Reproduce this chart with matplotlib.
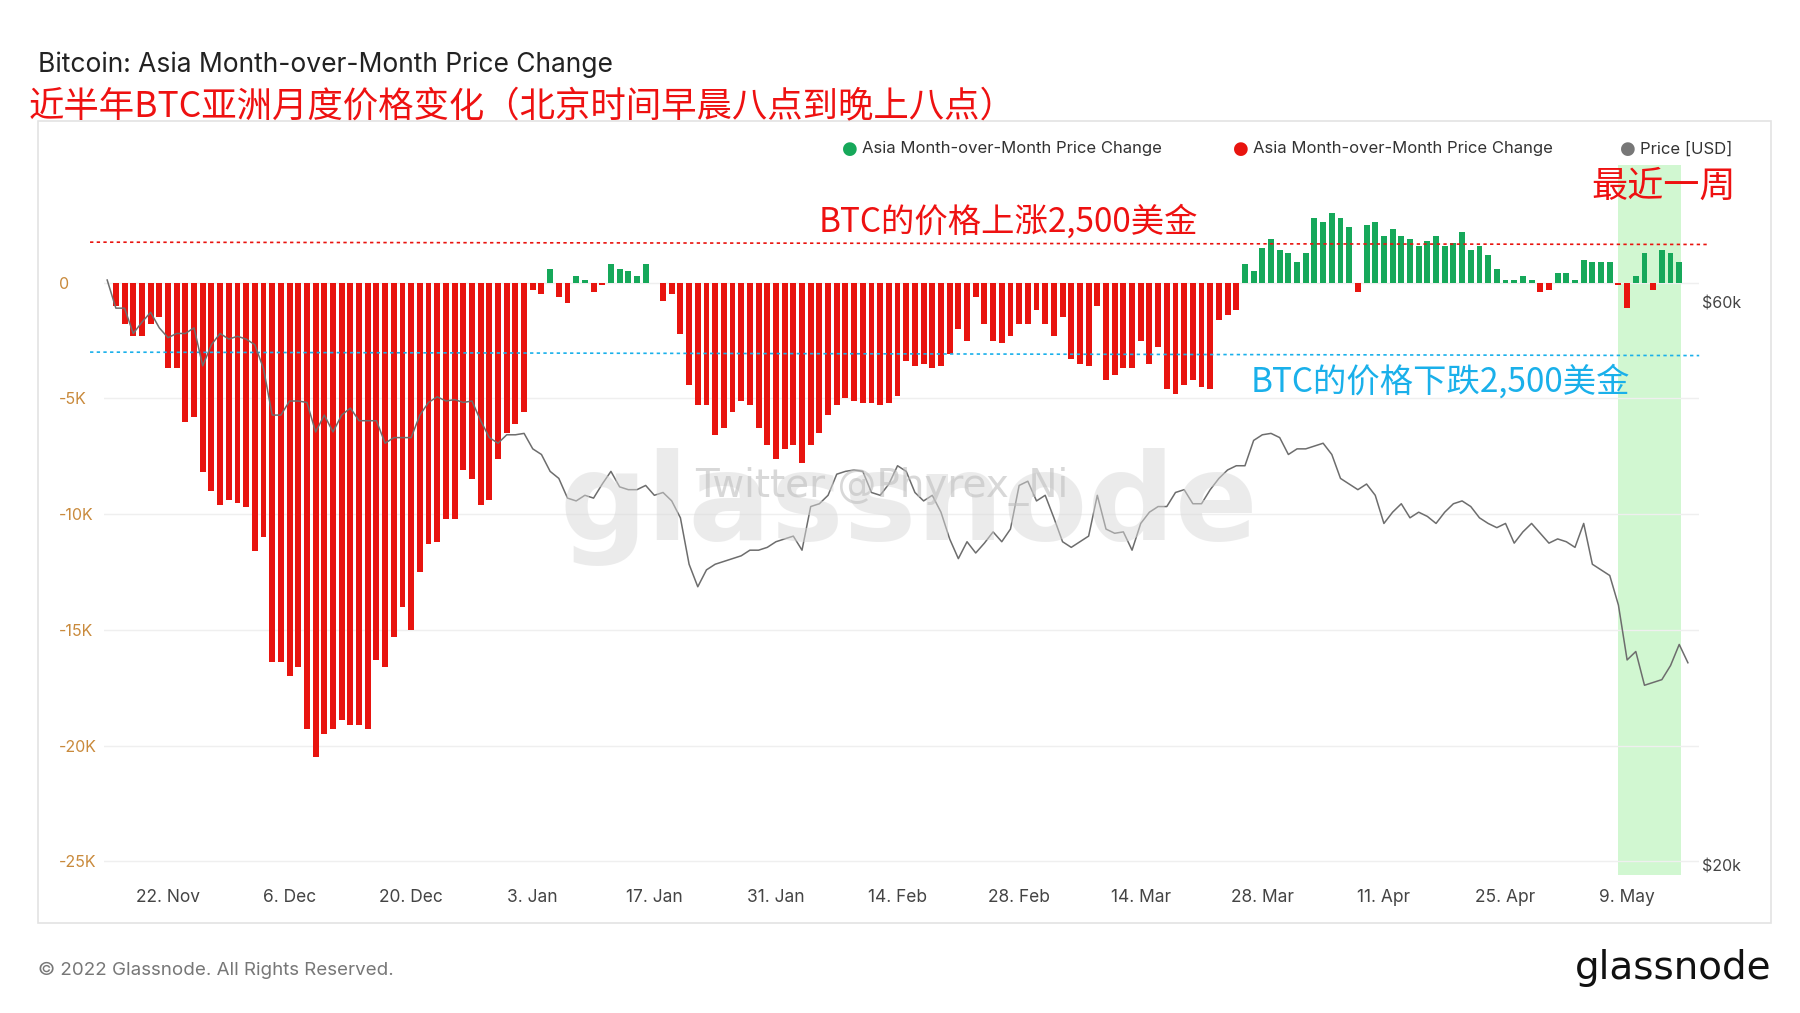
import numpy as np
import pandas as pd
import matplotlib
matplotlib.use("Agg")
import matplotlib.pyplot as plt
import matplotlib.dates as mdates
from matplotlib.patches import Rectangle

plt.rcParams['font.family'] = ['Inter', 'Noto Sans CJK SC', 'DejaVu Sans']

# Asia month-over-month price change (K USD), daily from 16 Nov 2021
change = [-1.0, -1.8, -2.3, -2.3, -1.8, -1.5, -3.7, -3.7, -6.0, -5.8, -8.2, -9.0, -9.6, -9.4,
          -9.5, -9.7, -11.6, -11.0, -16.4, -16.4, -17.0, -16.6, -19.3, -20.5, -19.5, -19.3,
          -18.9, -19.1, -19.1, -19.3, -16.3, -16.6, -15.3, -14.0, -15.0, -12.5, -11.3, -11.2,
          -10.2, -10.2, -8.1, -8.5, -9.6, -9.4, -7.6, -6.5, -6.1, -5.6, -0.3, -0.5, 0.6, -0.6,
          -0.9, 0.3, 0.1, -0.4, -0.1, 0.8, 0.6, 0.5, 0.3, 0.8, 0.0, -0.8, -0.5, -2.2, -4.4,
          -5.3, -5.3, -6.6, -6.3, -5.6, -5.1, -5.3, -6.3, -7.0, -7.6, -7.2, -7.0, -7.8, -7.0,
          -6.5, -5.7, -5.3, -5.0, -5.1, -5.2, -5.2, -5.3, -5.2, -4.9, -3.4, -3.6, -3.5, -3.7,
          -3.6, -3.1, -2.0, -2.5, -0.6, -1.8, -2.5, -2.6, -2.3, -1.8, -1.8, -1.2, -1.8, -2.3,
          -1.5, -3.3, -3.5, -3.6, -1.0, -4.2, -4.0, -3.7, -3.7, -2.5, -3.5, -2.8, -4.6, -4.8,
          -4.4, -4.2, -4.5, -4.6, -1.6, -1.4, -1.2, 0.8, 0.5, 1.5, 1.9, 1.4, 1.3, 0.9, 1.3,
          2.8, 2.6, 3.0, 2.8, 2.4, -0.4, 2.5, 2.6, 2.0, 2.3, 2.0, 1.9, 1.6, 1.8, 2.0, 1.6,
          1.7, 2.2, 1.4, 1.6, 1.2, 0.6, 0.1, 0.1, 0.3, 0.1, -0.4, -0.3, 0.4, 0.4, 0.1, 1.0,
          0.9, 0.9, 0.9, -0.1, -1.1, 0.3, 1.3, -0.3, 1.4, 1.3, 0.9]

# price (K USD), daily from 15 Nov 2021
price = [61.6, 59.6, 59.6, 57.8, 58.6, 59.3, 58.2, 57.5, 57.8, 57.8, 58.2, 55.5, 57.0, 57.8,
         57.4, 57.6, 57.4, 57.0, 55.3, 52.0, 52.0, 53.0, 53.0, 52.9, 50.8, 52.0, 50.8, 52.0,
         52.5, 51.6, 51.6, 51.6, 50.0, 50.4, 50.4, 50.4, 52.0, 52.9, 53.3, 53.0, 53.1, 52.9,
         53.0, 51.6, 50.4, 50.0, 50.6, 50.6, 50.7, 49.6, 49.2, 48.0, 47.5, 46.1, 45.9, 46.3,
         46.1, 47.1, 48.0, 46.9, 46.7, 46.7, 47.0, 46.3, 46.5, 45.9, 44.7, 41.4, 39.8, 41.0,
         41.4, 41.6, 41.8, 42.0, 42.4, 42.4, 42.6, 43.0, 43.2, 43.4, 42.4, 45.5, 45.7, 46.3,
         47.8, 48.0, 48.1, 48.0, 46.5, 46.3, 47.1, 48.4, 48.0, 46.5, 45.9, 46.3, 45.1, 43.2,
         41.8, 43.0, 42.2, 42.9, 43.7, 43.0, 43.9, 47.0, 47.3, 45.9, 46.3, 44.7, 43.0, 42.6,
         43.0, 43.4, 46.3, 43.9, 43.6, 43.7, 42.4, 44.3, 45.1, 45.5, 45.5, 46.5, 46.7, 45.7,
         45.7, 46.7, 47.5, 48.1, 48.4, 48.4, 50.2, 50.6, 50.7, 50.4, 49.2, 49.6, 49.6, 49.8,
         50.0, 49.2, 47.5, 47.1, 46.7, 47.1, 46.3, 44.3, 45.1, 45.7, 44.7, 45.1, 44.8, 44.3,
         45.1, 45.7, 45.9, 45.5, 44.7, 44.3, 44.0, 44.3, 42.9, 43.7, 44.3, 43.6, 42.9, 43.2,
         43.0, 42.6, 44.3, 41.4, 41.0, 40.6, 38.5, 34.6, 35.2, 32.8, 33.0, 33.2, 34.2, 35.7,
         34.4]

bar_dates = pd.date_range("2021-11-16", periods=len(change), freq="D")
price_dates = pd.date_range("2021-11-15", periods=len(price), freq="D")
change = np.array(change)

RED = "#e8140f"
GREEN = "#16a85a"

fig = plt.figure(figsize=(18, 10.13), dpi=100)

# outer light frame
fig.patches.append(Rectangle((0.021, 0.089), 0.963, 0.792, transform=fig.transFigure,
                             fill=False, edgecolor="#e3e3e3", linewidth=1.2))

ax = fig.add_axes([0.058, 0.136, 0.886, 0.7015])
x0 = pd.Timestamp("2021-11-16")
ax.set_xlim(x0 - pd.Timedelta(days=1.32), x0 + pd.Timedelta(days=182.3))
ax.set_ylim(-25.6, 5.1)

ax.axvspan(x0 + pd.Timedelta(days=172.9), x0 + pd.Timedelta(days=180.2),
           color="#ccf7cc", alpha=0.9, zorder=0, lw=0)

for y in [0, -5, -10, -15, -20, -25]:
    ax.axhline(y, color="#efefef", lw=1, zorder=0.5)

colors = [GREEN if v >= 0 else RED for v in change]
ax.bar(bar_dates, change, width=0.68, color=colors, zorder=2)

ax.set_yticks([0, -5, -10, -15, -20, -25])
ax.set_yticklabels(["0", "-5K", "-10K", "-15K", "-20K", "-25K"])
ax.tick_params(axis='y', labelsize=11.5, length=0, pad=33)
for lab in ax.get_yticklabels():
    lab.set_color("#c98a3c")
    lab.set_horizontalalignment("left")

ticks = pd.date_range("2021-11-22", periods=13, freq="14D")
ax.set_xticks(ticks)
ax.xaxis.set_major_formatter(mdates.DateFormatter("%-d. %b"))
ax.tick_params(axis='x', labelsize=12.5, labelcolor="#444444", length=0, pad=10)
for s in ax.spines.values():
    s.set_visible(False)

ax2 = ax.twinx()
ax2.set_ylim(19.3, 69.8)
ax2.plot(price_dates, price, color="#6d6d6d", lw=1.1, zorder=3)
ax2.set_yticks([20, 60])
ax2.set_yticklabels(["$20k", "$60k"])
ax2.tick_params(axis='y', labelsize=11.5, labelcolor="#444444", length=0, pad=2)
for s in ax2.spines.values():
    s.set_visible(False)

# reference dotted lines
ax.plot([-0.009, 1.006], [1.75, 1.65], color=RED, ls=(0, (2, 2)), lw=1.2,
        transform=ax.get_yaxis_transform(), clip_on=False, zorder=4)
ax.plot([-0.009, 1.0], [-3.0, -3.15], color="#1ab0ea", ls=(0, (2, 2)), lw=1.2,
        transform=ax.get_yaxis_transform(), clip_on=False, zorder=4)

# watermarks
fig.text(0.505, 0.50, "glassnode", fontsize=88, color="#d9d9d9", alpha=0.5,
         ha="center", va="center", family="DejaVu Sans", fontweight="bold", zorder=1)
fig.text(0.49, 0.52, "Twitter @Phyrex_Ni", fontsize=28, color="#bfbfbf", alpha=0.6,
         ha="center", va="center", family="DejaVu Sans")

# titles
cjk = ["Noto Sans CJK SC", "DejaVu Sans"]
fig.text(0.021, 0.936, "Bitcoin: Asia Month-over-Month Price Change", fontsize=19,
         color="#222222", va="center")
fig.text(0.016, 0.894, "近半年BTC亚洲月度价格变化（北京时间早晨八点到晚上八点）", fontsize=25.5,
         color="#ee1111", va="center", family=cjk)

# annotations
fig.text(0.455, 0.781, "BTC的价格上涨2,500美金", fontsize=24, color="#ee1111",
         va="center", family=cjk)
fig.text(0.695, 0.623, "BTC的价格下跌2,500美金", fontsize=24, color="#1ab0ea",
         va="center", family=cjk)
fig.text(0.884, 0.816, "最近一周", fontsize=26, color="#ee1111", va="center", family=cjk)

# legend
leg_y = 0.853
items = [(0.468, GREEN, "Asia Month-over-Month Price Change"),
         (0.685, RED, "Asia Month-over-Month Price Change"),
         (0.900, "#777777", "Price [USD]")]
for xx, c, t in items:
    fig.text(xx, leg_y, "●", color=c, fontsize=13, va="center", ha="left", family="DejaVu Sans")
    fig.text(xx + 0.011, leg_y, t, color="#333333", fontsize=12, va="center")

# footer
fig.text(0.021, 0.042, "© 2022 Glassnode. All Rights Reserved.", fontsize=13.5,
         color="#777777", va="center")
fig.text(0.984, 0.044, "glassnode", fontsize=28, color="#111111", va="center", ha="right",
         family="DejaVu Sans")

fig.savefig("out.png", dpi=100, facecolor="white")
